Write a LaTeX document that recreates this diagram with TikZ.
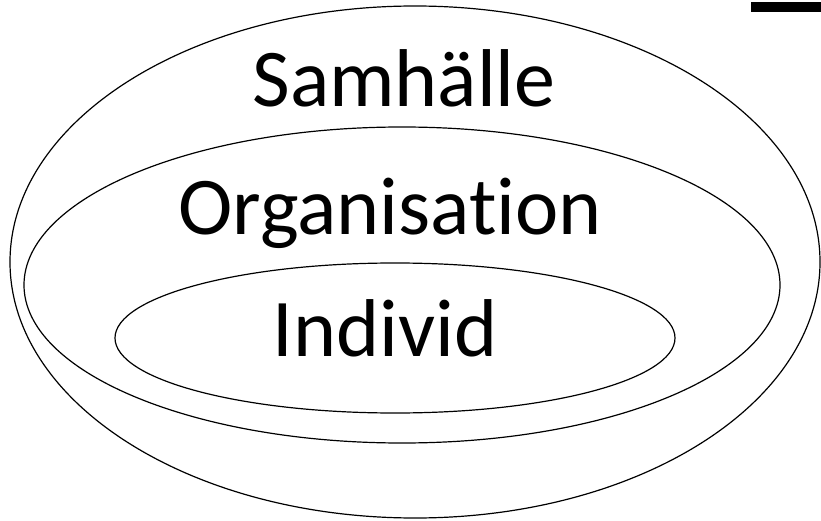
\documentclass[tikz,border=0pt]{standalone}
\usepackage{fontspec}
\setmainfont[Ligatures={NoCommon,NoDiscretionary}]{Carlito}
\usepackage{tikz}

\begin{document}
\begin{tikzpicture}[x=1pt,y=-1pt,ring/.style={draw,line width=1.2pt},word/.style={anchor=base,inner sep=0pt,font=\fontsize{82}{90}\selectfont}]
\useasboundingbox (0,0) rectangle (821,521);
% the three rings
\draw[ring] (415,262) ellipse [x radius=405pt, y radius=256pt];
\draw[ring] (402,285) ellipse [x radius=378pt, y radius=158pt];
\draw[ring] (395,338) ellipse [x radius=280pt, y radius=75pt];
\node[word] (samhalle) at (404,107) {Samhälle};
\node[word] (organisation) at (390,235) {Organisation};
\node[word] (individ) at (385,356) {Individ};
% bar in the corner
\fill (751,2) rectangle (821,12);
\end{tikzpicture}
\end{document}
